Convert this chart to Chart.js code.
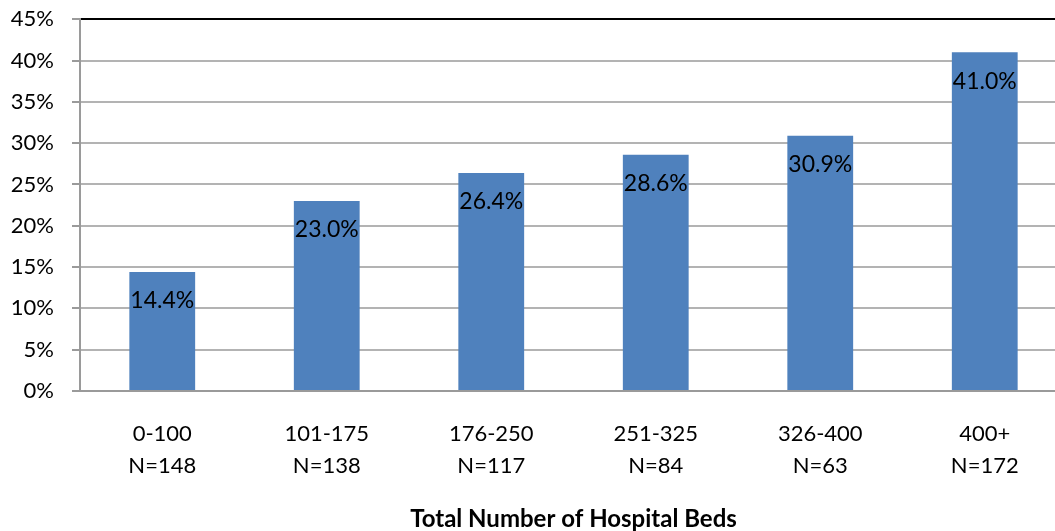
<!DOCTYPE html>
<html lang="en">
<head>
    <meta charset="UTF-8">
    <title>Share by Total Number of Hospital Beds</title>
    <script src="https://cdn.jsdelivr.net/npm/chart.js"></script>
    <style>
        html, body {
            margin: 0;
            padding: 0;
            background: #ffffff;
            overflow: hidden;
        }
        #wrap {
            position: relative;
            width: 1067px;
            height: 543px;
            margin-top: -12px;
        }
    </style>
</head>
<body>
<div id="wrap">
    <canvas id="beds-chart"></canvas>
</div>
<script>
    // bed-count groups, two-line labels (range / sample size)
    const bedRanges = ["0-100", "101-175", "176-250", "251-325", "326-400", "400+"];
    const sampleSizes = ["N=148", "N=138", "N=117", "N=84", "N=63", "N=172"];
    const percentValues = [14.4, 23.0, 26.4, 28.6, 30.9, 41.0];
    const yTicks = [0, 5, 10, 15, 20, 25, 30, 35, 40, 45];

    const FONT = "Lato, 'Open Sans', sans-serif";

    // writes the value just inside the top of each bar
    const barValueLabels = {
        id: "barValueLabels",
        afterDatasetsDraw(chart) {
            const ctx = chart.ctx;
            const meta = chart.getDatasetMeta(0);
            ctx.save();
            ctx.font = "23px " + FONT;
            ctx.fillStyle = "#000000";
            ctx.textAlign = "center";
            ctx.textBaseline = "middle";
            meta.data.forEach((bar, i) => {
                ctx.fillText(percentValues[i].toFixed(1) + "%", bar.x, bar.y + 29);
            });
            ctx.restore();
        }
    };

    const chart = new Chart(document.getElementById("beds-chart"), {
        type: "bar",
        data: {
            labels: bedRanges.map((r, i) => [r, sampleSizes[i]]),
            datasets: [{
                data: percentValues,
                backgroundColor: "#4F81BD",
                borderWidth: 0,
                barPercentage: 0.4,
                categoryPercentage: 1.0
            }]
        },
        options: {
            responsive: true,
            maintainAspectRatio: false,
            animation: false,
            layout: { padding: 0 },
            plugins: {
                legend: { display: false },
                tooltip: { enabled: false }
            },
            scales: {
                x: {
                    grid: { display: false, drawTicks: false },
                    border: { display: true, color: "#9a9a9a", width: 2 },
                    ticks: {
                        color: "#000000",
                        font: { family: FONT, size: 22, lineHeight: 1.45 },
                        padding: 27,
                        maxRotation: 0
                    },
                    title: {
                        display: true,
                        text: "Total Number of Hospital Beds",
                        color: "#000000",
                        font: { family: FONT, size: 24, weight: "bold", lineHeight: 1.0 },
                        padding: { top: 0, bottom: 0 }
                    },
                    afterFit(scale) { scale.height = 140; }
                },
                y: {
                    min: 0,
                    max: 45,
                    afterBuildTicks(scale) {
                        scale.ticks = yTicks.map(v => ({ value: v }));
                    },
                    grid: {
                        color: ctx => (ctx.tick && ctx.tick.value === 45) ? "#000000" : "#b3b3b3",
                        lineWidth: 2,
                        tickLength: 8,
                        tickColor: "#9a9a9a"
                    },
                    border: { display: true, color: "#9a9a9a", width: 2 },
                    ticks: {
                        color: "#000000",
                        font: { family: FONT, size: 22 },
                        padding: 18,
                        callback: v => v + "%"
                    },
                    afterFit(scale) { scale.width = 80; }
                }
            }
        },
        plugins: [barValueLabels]
    });
</script>
</body>
</html>
